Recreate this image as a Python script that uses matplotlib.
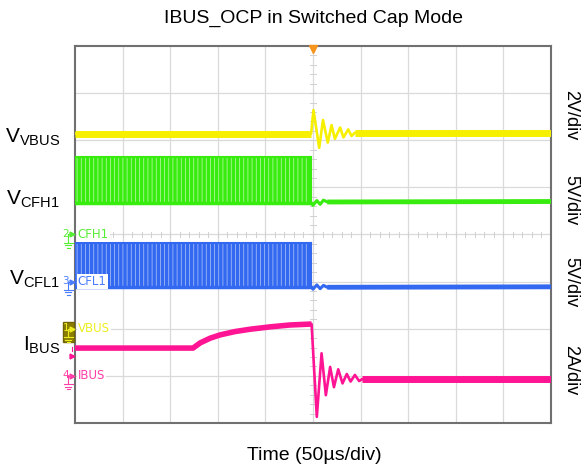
import matplotlib
matplotlib.use('Agg')
import matplotlib.pyplot as plt
import numpy as np

plt.rcParams['font.family'] = ['Liberation Sans', 'DejaVu Sans']
plt.rcParams['mathtext.fontset'] = 'custom'
plt.rcParams['mathtext.rm'] = 'Liberation Sans'
plt.rcParams['mathtext.it'] = 'Liberation Sans'
plt.rcParams['hatch.linewidth'] = 0.5

# ---------------- data (screen divisions: x 0..10, y 0..8) ----------------
trigger_t = 5.0

vbus_t = [0.0, 4.96, 5.01, 5.13, 5.21, 5.31, 5.39, 5.46, 5.57, 5.64, 5.74, 5.81, 5.88, 10.0]
vbus_v = [6.14, 6.14, 6.64, 5.84, 6.43, 5.95, 6.32, 6.03, 6.27, 6.06, 6.23, 6.09, 6.16, 6.16]

cfh1_env_t = [0.0, 4.96]
cfh1_top = [5.65, 5.65]
cfh1_bot = [4.67, 4.67]
cfh1_t = [4.96, 5.00, 5.08, 5.15, 5.22, 5.30, 10.0]
cfh1_v = [4.67, 4.62, 4.72, 4.64, 4.73, 4.69, 4.70]

cfl1_env_t = [0.0, 4.96]
cfl1_top = [3.83, 3.83]
cfl1_bot = [2.89, 2.89]
cfl1_t = [4.96, 5.00, 5.08, 5.15, 5.22, 5.30, 10.0]
cfl1_v = [2.89, 2.84, 2.93, 2.85, 2.92, 2.88, 2.89]

ibus_t = [0.0, 2.48, 2.63, 2.84, 3.05, 3.36, 3.68, 4.10, 4.52, 4.97,
          5.08, 5.18, 5.27, 5.36, 5.44, 5.53, 5.62, 5.71, 5.79, 5.88, 5.97, 6.03, 10.0]
ibus_v = [1.59, 1.59, 1.70, 1.80, 1.87, 1.94, 1.99, 2.04, 2.08, 2.10,
          0.13, 1.48, 0.59, 1.19, 0.76, 1.14, 0.84, 1.04, 0.88, 1.02, 0.89, 0.93, 0.93]

scale_labels = ['2V/div', '5V/div', '5V/div', '2A/div']
trace_labels = [r'$\mathregular{V_{VBUS}}$', r'$\mathregular{V_{CFH1}}$',
                r'$\mathregular{V_{CFL1}}$', r'$\mathregular{I_{BUS}}$']
ch_names = ['VBUS', 'CFH1', 'CFL1', 'IBUS']
ch_numbers = ['1', '2', '3', '4']
ch_ground = [2.0, 4.0, 3.0, 1.0]

# ---------------- styles ----------------
YEL = '#f6f000'
GRN = '#38ec10'
BLU = '#3369f0'
PNK = '#ff1493'
W, H = 587, 473

fig = plt.figure(figsize=(W / 100, H / 100), dpi=100)
ax = fig.add_axes([75 / W, 50 / H, 476 / W, 377 / H])
ax.set_xlim(0, 10)
ax.set_ylim(0, 8)
ax.set_xticks([])
ax.set_yticks([])
for s in ax.spines.values():
    s.set_color('#707070')
    s.set_linewidth(1.5)

# grid
for gx in range(1, 10):
    ax.axvline(gx, color='#dadada', lw=0.9, zorder=0)
for gy in range(1, 8):
    ax.axhline(gy, color='#dadada', lw=0.9, zorder=0)
# minor ticks on center lines
for tx in np.arange(0.2, 10, 0.2):
    ax.plot([tx, tx], [3.95, 4.05], color='#d0d0d0', lw=0.7, zorder=0)
for ty in np.arange(0.2, 8, 0.2):
    ax.plot([4.94, 5.06], [ty, ty], color='#d0d0d0', lw=0.7, zorder=0)

vbus_t_a = np.array(vbus_t); vbus_v_a = np.array(vbus_v)
ibus_t_a = np.array(ibus_t); ibus_v_a = np.array(ibus_v)
cfh1_t_a = np.array(cfh1_t); cfh1_v_a = np.array(cfh1_v)
cfl1_t_a = np.array(cfl1_t); cfl1_v_a = np.array(cfl1_v)

# VBUS
ax.plot(vbus_t, vbus_v, color=YEL, lw=1.9, zorder=3)
m = vbus_t_a <= 4.96
ax.plot(vbus_t_a[m], vbus_v_a[m], color=YEL, lw=5, zorder=3, solid_capstyle='butt')
m = vbus_t_a >= 5.88
ax.plot(vbus_t_a[m], vbus_v_a[m], color=YEL, lw=5, zorder=3, solid_capstyle='butt')

# CFH1 switching band
ax.fill_between(cfh1_env_t, cfh1_bot, cfh1_top, facecolor=GRN, edgecolor='#c4f8b4',
                hatch='||||', linewidth=0, zorder=3)
ax.plot(cfh1_env_t, cfh1_bot, color=GRN, lw=2.5, zorder=3)
ax.plot(cfh1_env_t, cfh1_top, color=GRN, lw=1.5, zorder=3)
ax.plot([4.96, 4.96], [cfh1_bot[-1], cfh1_top[-1]], color=GRN, lw=1.5, zorder=3)
ax.plot(cfh1_t, cfh1_v, color=GRN, lw=2.2, zorder=3)
m = cfh1_t_a >= 5.30
ax.plot(cfh1_t_a[m], cfh1_v_a[m], color=GRN, lw=3.5, zorder=3, solid_capstyle='butt')

# CFL1 switching band
ax.fill_between(cfl1_env_t, cfl1_bot, cfl1_top, facecolor=BLU, edgecolor='#b4c8f8',
                hatch='||||', linewidth=0, zorder=3)
ax.plot(cfl1_env_t, cfl1_bot, color=BLU, lw=2.5, zorder=3)
ax.plot(cfl1_env_t, cfl1_top, color=BLU, lw=1.5, zorder=3)
ax.plot([4.96, 4.96], [cfl1_bot[-1], cfl1_top[-1]], color=BLU, lw=1.5, zorder=3)
ax.plot(cfl1_t, cfl1_v, color=BLU, lw=2.2, zorder=3)
m = cfl1_t_a >= 5.30
ax.plot(cfl1_t_a[m], cfl1_v_a[m], color=BLU, lw=3.5, zorder=3, solid_capstyle='butt')

# IBUS
ax.plot(ibus_t, ibus_v, color=PNK, lw=1.9, zorder=3)
m = ibus_t_a <= 4.97
ax.plot(ibus_t_a[m], ibus_v_a[m], color=PNK, lw=4, zorder=3, solid_capstyle='butt')
m = ibus_t_a >= 6.03
ax.plot(ibus_t_a[m], ibus_v_a[m], color=PNK, lw=5, zorder=3, solid_capstyle='butt')

# trigger marker
ax.plot([trigger_t], [7.93], marker='v', color='#f7941d', markersize=6,
        clip_on=False, zorder=5)

# channel labels inside plot and ground markers outside
label_cols = {'VBUS': '#eeee20', 'CFH1': '#55ee33', 'CFL1': '#4a7cff', 'IBUS': '#ff3fa8'}
for name, num, gy in zip(ch_names, ch_numbers, ch_ground):
    c = label_cols[name]
    ax.text(0.06, gy, name, color=c, fontsize=8.5, family='DejaVu Sans',
            va='center', ha='left', zorder=6,
            bbox=dict(facecolor='white', edgecolor='none', pad=0.6))
    if name == 'VBUS':
        ax.add_patch(plt.Rectangle((-0.25, gy - 0.28), 0.23, 0.42,
                                   facecolor='#8a7d00', edgecolor='#6f6400',
                                   transform=ax.transData, clip_on=False, zorder=5))
    ax.text(-0.19, gy + 0.02, num, color=c, fontsize=7.5, family='DejaVu Sans',
            va='center', ha='center', clip_on=False, zorder=6)
    ax.plot([-0.07], [gy], marker='>', color=c, markersize=3.5, clip_on=False, zorder=6)
    ax.plot([-0.14, -0.14, -0.14], [gy, gy - 0.06, gy - 0.18], color=c, lw=0.8,
            clip_on=False, zorder=6)
    ax.plot([-0.14, -0.04], [gy, gy], color=c, lw=0.8, clip_on=False, zorder=6)
    for k, wdt in enumerate([0.09, 0.06, 0.03]):
        yy = gy - 0.18 - 0.05 * k
        ax.plot([-0.14 - wdt, -0.14 + wdt], [yy, yy], color=c, lw=0.8,
                clip_on=False, zorder=6)

# trigger level marker for IBUS
ax.plot([-0.07], [1.42], marker='>', color=PNK, markersize=3.5, clip_on=False, zorder=6)
ax.plot([-0.07, -0.07], [1.52, 1.62], color=PNK, lw=0.8, clip_on=False, zorder=6)

# title and axis label
fig.text(313 / W, 1 - 18 / H, 'IBUS_OCP in Switched Cap Mode', ha='center', va='center',
         fontsize=14)
fig.text(314 / W, 1 - 455 / H, 'Time (50\u00b5s/div)', ha='center', va='center',
         fontsize=14)

# left trace labels (baselines)
for lab, yb in zip(trace_labels, [143, 205, 285, 351]):
    fig.text(60 / W, 1 - yb / H, lab, ha='right', va='baseline', fontsize=15)

# right scale labels
for lab, yc in zip(scale_labels, [115, 200, 282, 370]):
    fig.text(571 / W, 1 - yc / H, lab, ha='center', va='center', rotation=-90,
             fontsize=13)

fig.savefig('out.png', dpi=100)
